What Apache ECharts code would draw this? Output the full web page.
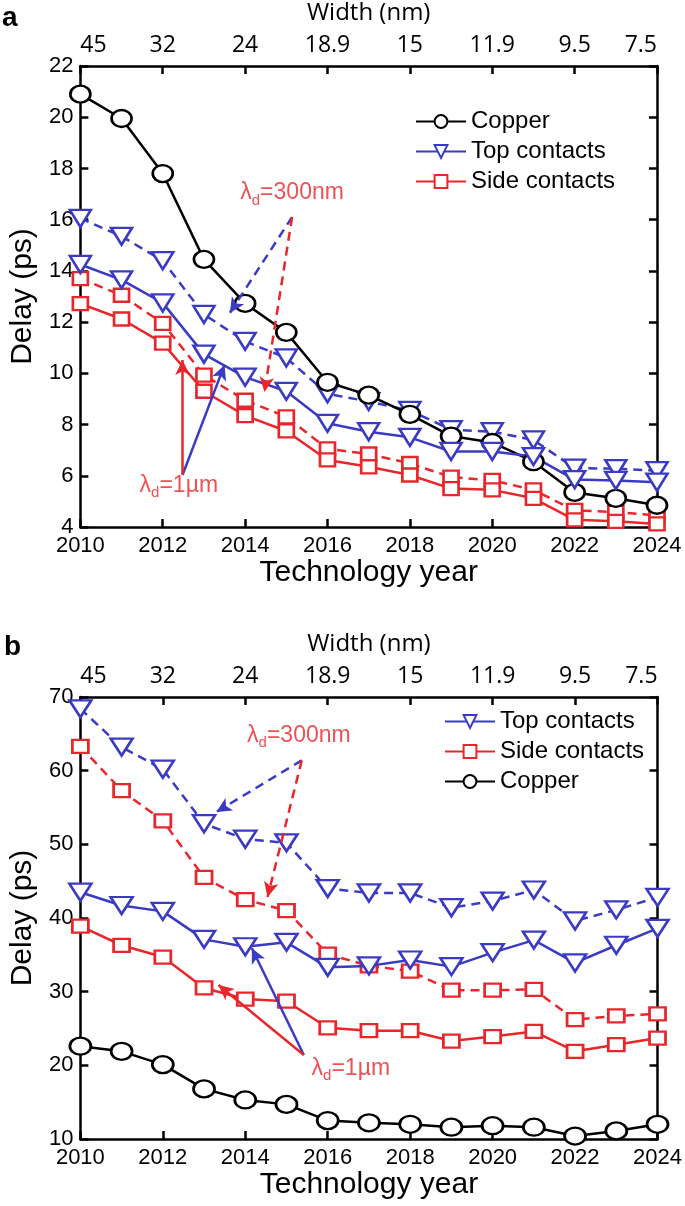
<!DOCTYPE html>
<html>
<head>
<meta charset="utf-8">
<script src="https://cdn.jsdelivr.net/npm/echarts@6/dist/echarts.min.js"></script>
<style>
html,body{margin:0;padding:0;background:#fff;}
#c{width:685px;height:1206px;}
</style>
</head>
<body>
<div id="c"></div>
<script>
// ---------- data ----------
const years = [2010,2011,2012,2013,2014,2015,2016,2017,2018,2019,2020,2021,2022,2023,2024];
const yearTicks = [2010,2012,2014,2016,2018,2020,2022,2024];
const widthLabels = ['45','32','24','18.9','15','11.9','9.5','7.5'];

// panel a
const copperA   = [20.9, 19.95, 17.8, 14.45, 12.73, 11.6, 9.65, 9.15, 8.4, 7.55, 7.3, 6.55, 5.35, 5.12, 4.85];
const topA_1um  = [14.25, 13.65, 12.75, 10.75, 9.85, 9.3, 8.05, 7.72, 7.5, 6.95, 6.95, 6.75, 5.85, 5.82, 5.75];
const topA_300  = [16.05, 15.35, 14.4, 12.3, 11.25, 10.6, 9.2, 8.9, 8.55, 7.8, 7.72, 7.4, 6.3, 6.28, 6.2];
const sideA_1um = [12.72, 12.12, 11.18, 9.3, 8.35, 7.75, 6.62, 6.35, 6.03, 5.5, 5.45, 5.12, 4.28, 4.22, 4.12];
const sideA_300 = [13.7, 13.05, 11.95, 9.93, 8.95, 8.3, 7.05, 6.85, 6.48, 5.95, 5.82, 5.45, 4.65, 4.58, 4.45];

// panel b
const copperB   = [22.6, 21.9, 20.1, 16.8, 15.3, 14.7, 12.5, 12.2, 12.0, 11.6, 11.8, 11.6, 10.4, 11.1, 12.0];
const topB_1um  = [43.5, 41.7, 40.9, 37.1, 36.1, 36.7, 33.3, 33.5, 34.3, 33.4, 35.3, 37.0, 33.9, 36.3, 38.6];
const topB_300  = [68.4, 63.2, 60.2, 52.8, 50.7, 50.2, 44.0, 43.4, 43.4, 41.4, 42.3, 43.8, 39.6, 41.1, 42.8];
const sideB_1um = [38.9, 36.3, 34.7, 30.5, 29.0, 28.7, 25.1, 24.7, 24.7, 23.3, 23.9, 24.6, 21.9, 22.8, 23.7];
const sideB_300 = [63.3, 57.3, 53.2, 45.5, 42.5, 41.0, 35.1, 33.5, 32.8, 30.2, 30.2, 30.3, 26.2, 26.7, 27.0];

// annotations (data units: [year, delay])
const annA300 = {text:[2015.14, 17.04], apex:[2015.14, 16.1], blue:[2013.63, 12.36], red:[2014.47, 9.27]};
const annA1   = {text:[2012.39, 5.62],  apex:[2012.48, 6.03], blue:[2013.5, 10.33], red:[2012.48, 10.52]};
const annB300 = {text:[2015.3, 64.8],   apex:[2015.37, 61.4], blue:[2013.3, 54.4],  red:[2014.54, 42.85]};
const annB1   = {text:[2016.56, 19.6],  apex:[2015.42, 21.4], blue:[2014.16, 35.9], red:[2013.35, 30.9]};
const label300 = '300nm';
const label1 = '1\u00b5m';

// ---------- style ----------
const BLUE = '#3a3ac4';
const RED = '#e8262b';
const BLACK = '#000';
const LW = 2.5;
const DASH = [9, 6];
const FONT = 'Liberation Sans';

const pairs = arr => years.map((y, i) => [y, arr[i]]);

function lineSeries(name, arr, color, sym, size, rot, dashed, gi) {
  return {
    type: 'line', name: name, data: pairs(arr),
    xAxisIndex: gi * 2, yAxisIndex: gi * 2,
    symbol: sym, symbolSize: size, symbolRotate: rot, showAllSymbol: true,
    lineStyle: {color: color, width: LW, type: dashed ? DASH : 'solid'},
    itemStyle: {color: '#fff', borderColor: color, borderWidth: LW},
    emphasis: {disabled: true}, silent: true, z: dashed ? 3 : 4
  };
}

function annSeries(ann, txt, gi) {
  const arrow = (from, to, color, dashed) => [
    {coord: from, symbol: 'none', lineStyle: {color: color, width: LW, type: dashed ? DASH : 'solid'}},
    {coord: to, symbol: 'arrow'}
  ];
  const dashed = txt === label300;
  return {
    type: 'scatter', name: 'ann', data: [ann.text],
    xAxisIndex: gi * 2, yAxisIndex: gi * 2,
    symbolSize: 0, silent: true, z: 6,
    label: {
      show: true, position: 'inside',
      formatter: '{l|\u03bb}{s|d}{l|=' + txt + '}',
      rich: {
        l: {fontFamily: FONT, fontSize: 23, color: RED, lineHeight: 30, verticalAlign: 'middle'},
        s: {fontFamily: FONT, fontSize: 15, color: RED, lineHeight: 14, verticalAlign: 'bottom'}
      }
    },
    markLine: {
      silent: true, symbol: ['none', 'arrow'], symbolSize: [11, 15],
      label: {show: false}, animation: false,
      data: [
        arrow(ann.apex, ann.blue, BLUE, dashed),
        arrow(ann.apex, ann.red, RED, dashed)
      ]
    }
  };
}

function xAxes(gi) {
  const common = {
    type: 'value', gridIndex: gi, min: 2010, max: 2024, interval: 2,
    axisLine: {lineStyle: {color: BLACK, width: LW}},
    axisTick: {inside: true, length: 8, lineStyle: {color: BLACK, width: LW}},
    splitLine: {show: false}
  };
  return [
    Object.assign({}, common, {
      position: 'bottom',
      name: 'Technology year', nameLocation: 'middle', nameGap: 31,
      nameTextStyle: {fontFamily: FONT, fontSize: 30, color: BLACK},
      axisLabel: {color: BLACK, fontFamily: FONT, fontSize: 22, margin: 8, formatter: v => String(v)}
    }),
    Object.assign({}, common, {
      position: 'top',
      name: 'Width (nm)', nameLocation: 'middle', nameGap: 41,
      nameTextStyle: {fontFamily: 'Open Sans', fontSize: 24, color: BLACK},
      axisLabel: {
        color: BLACK, fontFamily: 'Open Sans', fontSize: 23, margin: 9,
        alignMinLabel: 'left', alignMaxLabel: 'right',
        formatter: v => widthLabels[yearTicks.indexOf(v)]
      }
    })
  ];
}

function yAxes(gi, min, max, interval) {
  const common = {
    type: 'value', gridIndex: gi, min: min, max: max, interval: interval,
    axisLine: {show: true, lineStyle: {color: BLACK, width: LW}},
    axisTick: {show: true, inside: true, length: 8, lineStyle: {color: BLACK, width: LW}},
    splitLine: {show: false}
  };
  return [
    Object.assign({}, common, {
      position: 'left',
      name: 'Delay (ps)', nameLocation: 'middle', nameGap: 38, nameRotate: 90,
      nameTextStyle: {fontFamily: FONT, fontSize: 30, color: BLACK},
      axisLabel: {color: BLACK, fontFamily: FONT, fontSize: 22, margin: 7}
    }),
    Object.assign({}, common, {position: 'right', axisLabel: {show: false}})
  ];
}

function legend(left, top, names) {
  return {
    data: names, left: left, top: top, orient: 'vertical',
    itemWidth: 50, itemHeight: 16, itemGap: 3,
    selectedMode: false, backgroundColor: 'transparent', borderWidth: 0, padding: 0,
    textStyle: {fontFamily: FONT, fontSize: 24, color: BLACK, lineHeight: 27},
    symbolRotate: 'inherit'
  };
}

const CIRC_A = [20, 17], TRI_A = [21, 17], SQ_A = [15, 13];
const CIRC_B = [21, 17], TRI_B = [22, 17], SQ_B = [16, 13];

const option = {
  animation: false,
  backgroundColor: '#fff',
  grid: [
    {left: 71, top: 66, width: 586, height: 461},
    {left: 70, top: 697, width: 589, height: 442}
  ],
  xAxis: [].concat(xAxes(0), xAxes(1)),
  yAxis: [].concat(yAxes(0, 4, 22, 2), yAxes(1, 10, 70, 10)),
  legend: [
    legend(415, 108, ['Copper', 'Top contacts', 'Side contacts']),
    legend(444, 708, ['Top contacts', 'Side contacts', 'Copper'])
  ],
  graphic: [
    {type: 'text', left: 2, top: 4, style: {text: 'a', fontFamily: FONT, fontWeight: 'bold', fontSize: 28, fill: BLACK}},
    {type: 'text', left: 4, top: 633, style: {text: 'b', fontFamily: FONT, fontWeight: 'bold', fontSize: 28, fill: BLACK}}
  ],
  series: [
    lineSeries('Copper', copperA, BLACK, 'circle', CIRC_A, 0, false, 0),
    lineSeries('Top contacts', topA_1um, BLUE, 'triangle', TRI_A, 180, false, 0),
    lineSeries('Top contacts', topA_300, BLUE, 'triangle', TRI_A, 180, true, 0),
    lineSeries('Side contacts', sideA_1um, RED, 'rect', SQ_A, 0, false, 0),
    lineSeries('Side contacts', sideA_300, RED, 'rect', SQ_A, 0, true, 0),
    annSeries(annA300, label300, 0),
    annSeries(annA1, label1, 0),

    lineSeries('Top contacts', topB_1um, BLUE, 'triangle', TRI_B, 180, false, 1),
    lineSeries('Top contacts', topB_300, BLUE, 'triangle', TRI_B, 180, true, 1),
    lineSeries('Side contacts', sideB_1um, RED, 'rect', SQ_B, 0, false, 1),
    lineSeries('Side contacts', sideB_300, RED, 'rect', SQ_B, 0, true, 1),
    lineSeries('Copper', copperB, BLACK, 'circle', CIRC_B, 0, false, 1),
    annSeries(annB300, label300, 1),
    annSeries(annB1, label1, 1)
  ]
};

const chart = echarts.init(document.getElementById('c'), null, {renderer: 'canvas'});
chart.setOption(option);
</script>
</body>
</html>
